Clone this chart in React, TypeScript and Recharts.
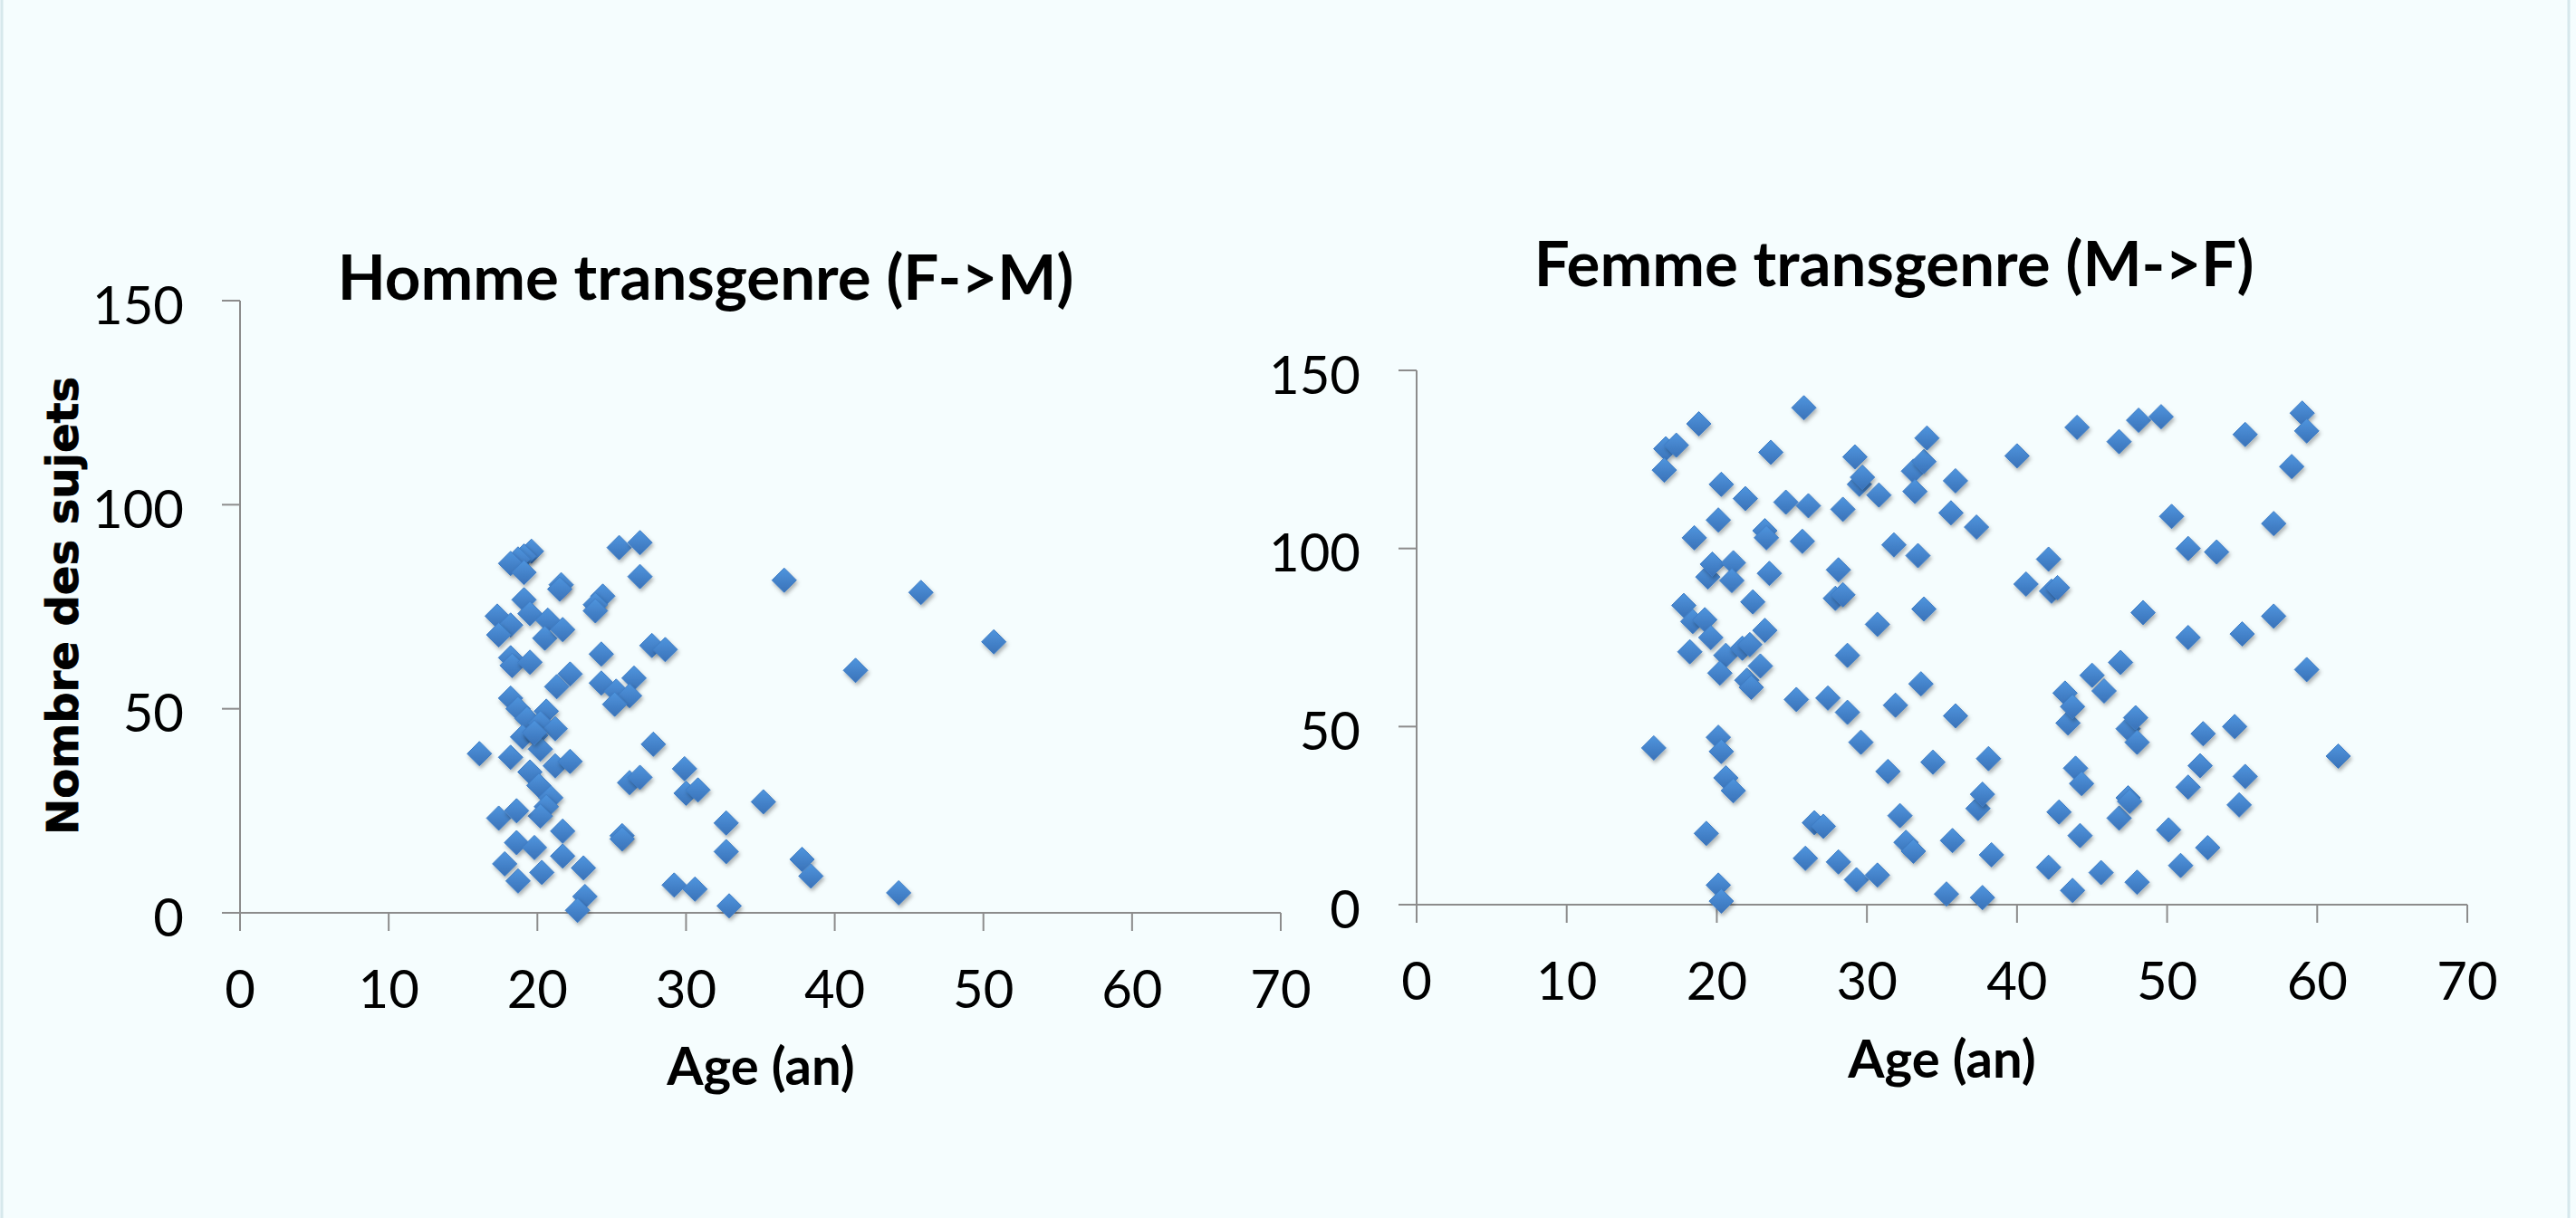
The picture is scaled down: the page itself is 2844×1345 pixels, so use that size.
import React from 'react';
import { ScatterChart, Scatter, XAxis, YAxis } from 'recharts';

// Homme transgenre (F->M)
const leftAges = [
  25.5, 26.9, 26.9, 19.6, 19.1, 18.7, 18.2, 19.1, 21.6, 21.5, 24.4, 23.9, 23.9, 19.1, 19.5, 17.3, 18.2, 17.4,
  20.7, 20.5, 21.7, 27.7, 28.6, 24.3, 18.2, 18.3, 19.5, 22.2, 21.3, 24.3, 26.5, 25.3, 26.2, 25.2, 18.2, 18.7,
  19.3, 20.6, 20.2, 21.2, 19.0, 19.9, 20.2, 19.8, 16.1, 18.2, 21.2, 22.2, 27.8, 19.5, 20.1, 20.9, 20.6, 20.2,
  17.4, 18.6, 26.2, 26.9, 29.9, 30.0, 30.8, 32.7, 32.7, 21.7, 18.6, 19.8, 25.7, 25.7, 17.8, 18.7, 20.3, 21.7,
  23.1, 23.2, 22.7, 29.2, 30.6, 32.9, 36.6, 45.8, 50.7, 41.4, 35.2, 37.8, 38.4, 44.3,
];
const leftCounts = [
  89.5, 90.7, 82.4, 88.6, 87.4, 86.7, 85.6, 83.4, 80.4, 79.3, 77.6, 75.5, 74, 76.7, 73.3, 72.7, 70.5, 68.1,
  71.7, 67.3, 69.4, 65.5, 64.5, 63.4, 62.5, 60.6, 61.4, 58.5, 55.4, 56.3, 57.5, 54.3, 53.2, 51.1, 52.6, 50,
  47.6, 49.4, 46.5, 45.1, 43.1, 43.5, 40.1, 44.2, 39, 38.1, 36, 37.1, 41.3, 34.5, 31.2, 28.2, 26, 23.7,
  23.2, 25, 31.9, 33.2, 35.3, 29.3, 30.1, 22, 15, 20, 17.2, 16, 18.9, 18.1, 12, 7.8, 9.9, 13.9,
  11, 4, 0.6, 6.8, 5.8, 1.7, 81.5, 78.5, 66.4, 59.4, 27.2, 13.1, 9, 4.9,
];

// Femme transgenre (M->F)
const rightAges = [
  15.8, 16.6, 16.5, 17.3, 18.8, 17.8, 18.5, 18.4, 19.2, 18.2, 19.6, 19.4, 19.7, 20.3, 20.1, 21.1, 21.0, 20.6,
  20.2, 20.1, 20.3, 20.6, 21.1, 19.3, 20.1, 20.3, 21.9, 22.4, 21.7, 22.2, 22.0, 22.3, 22.9, 23.2, 23.2, 23.3,
  23.5, 23.6, 24.6, 25.3, 25.8, 25.7, 26.1, 25.9, 26.5, 27.1, 27.4, 28.1, 28.1, 27.9, 28.4, 28.4, 28.7, 28.7,
  29.2, 29.5, 29.7, 29.6, 29.3, 30.7, 30.8, 30.7, 31.8, 31.9, 31.4, 32.2, 32.6, 33.1, 33.1, 33.2, 33.8, 34.0,
  33.4, 33.8, 33.6, 34.4, 35.3, 35.7, 35.6, 35.9, 35.9, 37.3, 37.4, 37.7, 37.7, 38.1, 38.3, 40.0, 40.6, 42.1,
  42.3, 42.7, 42.1, 42.8, 43.2, 43.4, 43.7, 43.9, 44.3, 44.2, 43.7, 44.0, 45.0, 45.8, 45.6, 46.8, 46.9, 46.8,
  47.4, 47.5, 47.4, 47.9, 48.0, 48.0, 48.1, 48.4, 49.6, 50.1, 50.3, 50.9, 51.4, 51.4, 51.4, 52.2, 52.4, 52.7,
  53.3, 54.5, 54.8, 55.0, 55.2, 55.2, 57.1, 57.1, 58.3, 59.0, 59.3, 59.3, 61.4,
];
const rightCounts = [
  44, 128, 122, 129, 135, 84, 103, 79.5, 80, 71, 75, 92, 95.6, 118, 108, 96, 91, 70,
  65, 47, 43, 35.6, 32, 20, 5.5, 1, 114, 85, 72, 73, 63, 61, 67, 77, 105, 103,
  93, 127, 113, 57.6, 139.5, 102, 112, 13, 23, 22, 58, 12, 94, 86, 87, 111, 70, 54,
  125.7, 118, 120, 45.6, 7, 8.3, 115, 78.7, 101, 56, 37.4, 25, 17.5, 15, 121.7, 116, 124.4, 131,
  98, 83, 62, 40, 3, 18, 110, 119, 53, 106, 27, 31, 2, 41, 14, 126, 90, 97,
  88, 89, 10.5, 26, 59.4, 51, 55.6, 38.3, 34, 19.4, 4, 134, 64.4, 60, 9, 130, 68, 24.3,
  30, 29, 49.4, 52.5, 45.6, 6.3, 136, 82, 137, 21, 109, 11, 100, 75, 33, 39, 48, 16,
  99, 50, 28, 76, 36, 132, 107, 81, 123, 138, 133, 66, 41.7,
];

const xTicks = [0, 10, 20, 30, 40, 50, 60, 70];
const yTicks = [0, 50, 100, 150];

const BG = '#F5FDFE';
const AXIS = '#8C8C8C';

const toPoints = (xs: number[], ys: number[]) => xs.map((x, i) => ({ x, y: ys[i] }));

// Excel style diamond marker, gradient + soft shadow
const Diamond = (props: any) => {
  const { cx, cy } = props;
  if (cx == null || cy == null) return null;
  const r = 13.5;
  const pts = `${cx},${cy - r} ${cx + r},${cy} ${cx},${cy + r} ${cx - r},${cy}`;
  return (
    <polygon
      points={pts}
      fill="url(#diamondFill)"
      stroke="#3E7DC6"
      strokeWidth={1}
      filter="url(#diamondShadow)"
    />
  );
};

interface PanelProps {
  ages: number[];
  counts: number[];
  left: number;
  width: number;
  top: number;
  bottom: number;
  yAxisWidth: number;
  right: number;
}

function Panel({ ages, counts, left, width, top, bottom, yAxisWidth, right }: PanelProps) {
  const data = toPoints(ages, counts);
  return (
    <div style={{ position: 'absolute', left, top: 0 }}>
      <ScatterChart width={width} height={1345} margin={{ top, right, bottom, left: 0 }}>
        <XAxis
          type="number"
          dataKey="x"
          domain={[0, 70]}
          ticks={xTicks}
          interval={0}
          height={150}
          stroke={AXIS}
          strokeWidth={2}
          tickSize={20}
          tickMargin={44}
          tick={{ fontSize: 58, fill: '#000', fontFamily: 'Lato' }}
        />
        <YAxis
          type="number"
          dataKey="y"
          domain={[0, 150]}
          ticks={yTicks}
          interval={0}
          width={yAxisWidth}
          stroke={AXIS}
          strokeWidth={2}
          tickSize={20}
          tickMargin={42}
          tick={{ fontSize: 58, fill: '#000', fontFamily: 'Lato', dy: 5 }}
        />
        <Scatter data={data} shape={<Diamond />} isAnimationActive={false} />
      </ScatterChart>
    </div>
  );
}

export default function App() {
  return (
    <div
      style={{
        position: 'absolute',
        left: 0,
        top: 0,
        width: 2844,
        height: 1345,
        background: BG,
        overflow: 'hidden',
      }}
    >
      <svg width={0} height={0} style={{ position: 'absolute' }}>
        <defs>
          <linearGradient id="diamondFill" x1="0" y1="0" x2="0" y2="1">
            <stop offset="0%" stopColor="#4F95DE" />
            <stop offset="100%" stopColor="#3A72B8" />
          </linearGradient>
          <filter id="diamondShadow" x="-50%" y="-50%" width="200%" height="200%">
            <feDropShadow dx="1.5" dy="3" stdDeviation="2" floodColor="#000" floodOpacity="0.3" />
          </filter>
        </defs>
      </svg>

      <Panel ages={leftAges} counts={leftCounts} left={0} width={1450} top={332} bottom={187} yAxisWidth={265} right={36} />
      <Panel ages={rightAges} counts={rightCounts} left={1380} width={1464} top={409} bottom={196} yAxisWidth={184} right={120} />

      <svg
        width={2844}
        height={1345}
        style={{ position: 'absolute', left: 0, top: 0, pointerEvents: 'none' }}
      >
        <line x1={2} y1={0} x2={2} y2={1345} stroke="#D6E8EC" strokeWidth={3} />
        <line x1={2836} y1={0} x2={2836} y2={1345} stroke="#D6E8EC" strokeWidth={3} />
        <text x={779} y={331} textAnchor="middle" fontFamily="Lato" fontWeight={700} fontSize={69} fill="#000">
          Homme transgenre (F-&gt;M)
        </text>
        <text x={2091} y={316} textAnchor="middle" fontFamily="Lato" fontWeight={700} fontSize={69} fill="#000">
          Femme transgenre (M-&gt;F)
        </text>
        <text x={840} y={1198} textAnchor="middle" fontFamily="Lato" fontWeight={700} fontSize={58} fill="#000">
          Age (an)
        </text>
        <text x={2144} y={1190} textAnchor="middle" fontFamily="Lato" fontWeight={700} fontSize={58} fill="#000">
          Age (an)
        </text>
        <text
          x={86}
          y={669}
          transform="rotate(-90 86 669)"
          textAnchor="middle"
          fontFamily="DejaVu Sans"
          fontWeight={700}
          fontSize={48}
          fill="#000"
          stroke="#000"
          strokeWidth={0.8}
        >
          Nombre des sujets
        </text>
      </svg>
    </div>
  );
}
